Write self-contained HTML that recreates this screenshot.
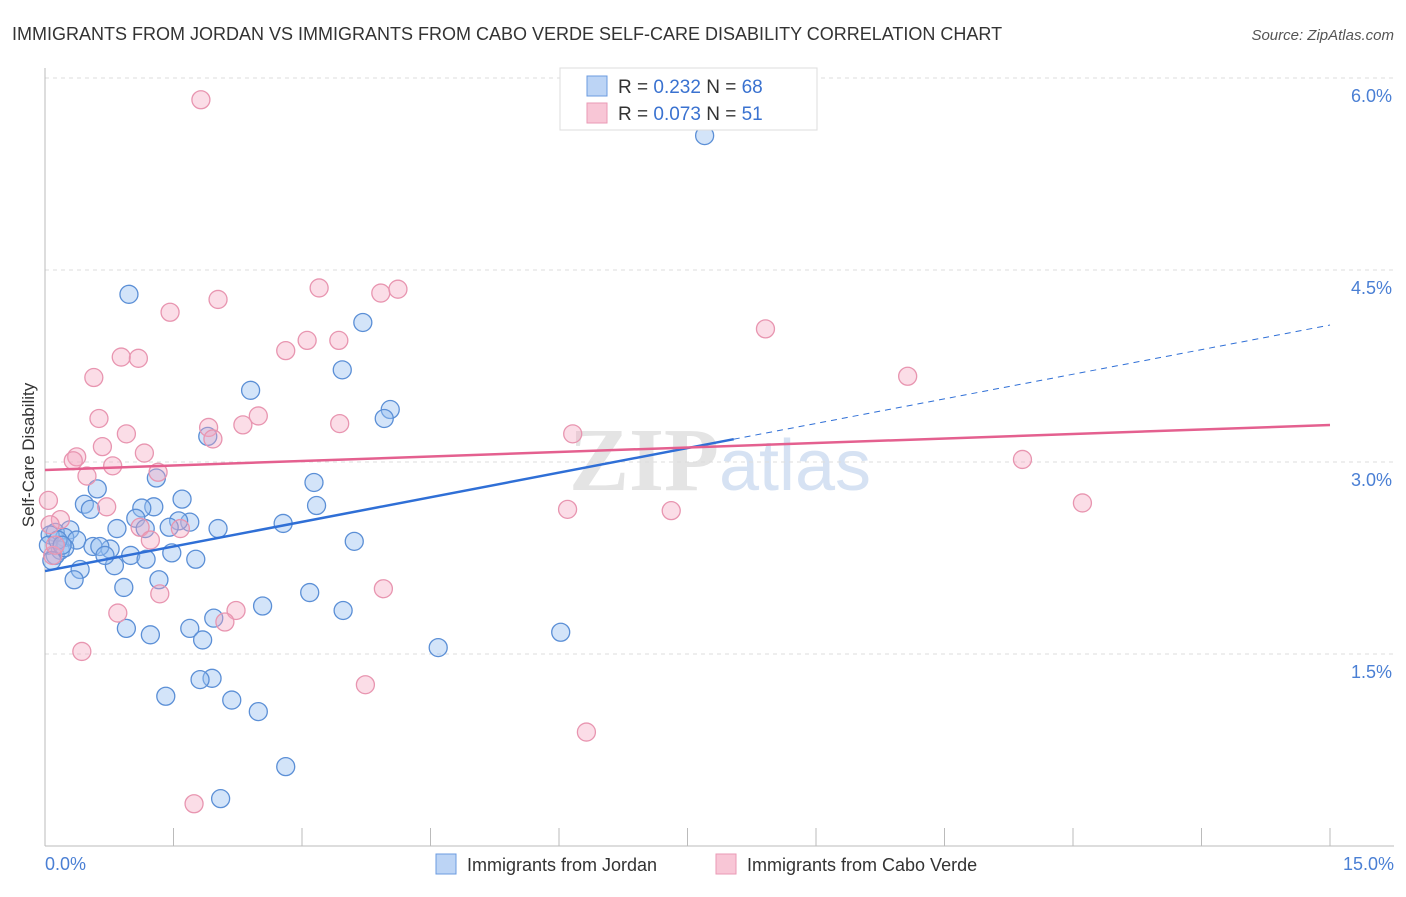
<!DOCTYPE html>
<html><head><meta charset="utf-8"><style>
body{margin:0;background:#fff;font-family:"Liberation Sans",sans-serif}
</style></head><body>
<svg width="1406" height="892" xmlns="http://www.w3.org/2000/svg" font-family="Liberation Sans, sans-serif">
<text x="12" y="40" font-size="18" fill="#333">IMMIGRANTS FROM JORDAN VS IMMIGRANTS FROM CABO VERDE SELF-CARE DISABILITY CORRELATION CHART</text>
<text x="1394" y="40" font-size="15" fill="#555" font-style="italic" text-anchor="end">Source: ZipAtlas.com</text>
<text x="720" y="490" font-size="90" fill="#e4e4e4" text-anchor="middle" font-family="Liberation Serif, serif" font-weight="bold">ZIP<tspan fill="#d6e2f3" font-family="Liberation Sans, sans-serif" font-weight="normal" font-size="72">atlas</tspan></text>
<g id="grid"></g>
<g id="axes"></g>
<g id="marks"></g>
<g id="lines"></g>
<text transform="translate(34,455) rotate(-90)" font-size="17" fill="#333" text-anchor="middle">Self-Care Disability</text>
<text x="45" y="870" font-size="18" fill="#4a7fd4">0.0%</text>
<text x="1394" y="870" font-size="18" fill="#4a7fd4" text-anchor="end">15.0%</text>
<g>
<rect x="560" y="68" width="257" height="62" fill="#fff" stroke="#ddd"/>
<rect x="587" y="76" width="20" height="20" fill="#bcd4f5" stroke="#6b9be0"/>
<rect x="587" y="103" width="20" height="20" fill="#f8c6d6" stroke="#ea9ab5"/>
<text x="618" y="93" font-size="19" fill="#333">R = <tspan fill="#3a72d0">0.232</tspan>   N = <tspan fill="#3a72d0">68</tspan></text>
<text x="618" y="120" font-size="19" fill="#333">R = <tspan fill="#3a72d0">0.073</tspan>   N = <tspan fill="#3a72d0"> 51</tspan></text>
</g>
<g>
<rect x="436" y="854" width="20" height="20" fill="#bcd4f5" stroke="#6b9be0"/>
<text x="467" y="871" font-size="18" fill="#333">Immigrants from Jordan</text>
<rect x="716" y="854" width="20" height="20" fill="#f8c6d6" stroke="#ea9ab5"/>
<text x="747" y="871" font-size="18" fill="#333">Immigrants from Cabo Verde</text>
</g>
</svg>
<script>
const yTicks=[1.5,3.0,4.5,6.0];
const yTickLabels=["1.5%","3.0%","4.5%","6.0%"];
const xTicks=[0,1.5,3,4.5,6,7.5,9,10.5,12,13.5,15];
const jordanX=[7.70,0.98,3.71,3.47,2.40,4.03,3.96,1.90,1.30,3.14,0.61,1.60,0.46,0.53,1.27,1.13,3.17,1.06,1.69,1.56,2.02,0.84,1.17,1.45,2.78,0.29,0.12,0.23,0.37,3.61,0.56,0.76,0.64,1.00,1.48,1.18,1.76,0.81,0.41,0.34,1.33,0.92,2.54,3.09,3.48,1.97,1.69,1.84,0.95,1.23,4.59,6.02,1.95,1.81,1.41,2.18,2.49,2.81,2.05,0.06,0.12,0.18,0.04,0.23,0.15,0.20,0.70,0.08];
const jordanY=[5.55,4.31,4.09,3.72,3.56,3.41,3.34,3.20,2.875,2.84,2.79,2.71,2.67,2.63,2.65,2.64,2.66,2.56,2.53,2.54,2.48,2.48,2.48,2.49,2.52,2.47,2.45,2.41,2.39,2.38,2.34,2.32,2.34,2.27,2.29,2.24,2.24,2.19,2.16,2.08,2.08,2.02,1.875,1.98,1.84,1.78,1.70,1.61,1.70,1.65,1.55,1.67,1.31,1.30,1.17,1.14,1.05,0.62,0.37,2.43,2.27,2.31,2.35,2.33,2.39,2.35,2.27,2.23];
const caboX=[1.82,1.46,2.02,3.20,3.92,4.12,8.41,3.06,3.43,2.81,0.89,1.09,0.57,10.07,0.63,2.49,2.31,3.44,0.95,1.91,1.96,0.67,1.16,6.16,0.37,0.33,0.79,0.49,1.32,11.41,12.11,0.04,0.72,6.10,7.31,0.18,1.11,1.58,1.23,0.09,0.85,1.34,2.23,2.10,3.95,0.43,3.74,6.32,1.74,0.06,0.12];
const caboY=[5.83,4.17,4.27,4.36,4.32,4.35,4.04,3.95,3.95,3.87,3.82,3.81,3.66,3.67,3.34,3.36,3.29,3.30,3.22,3.27,3.18,3.12,3.07,3.22,3.04,3.01,2.97,2.89,2.92,3.02,2.68,2.70,2.65,2.63,2.62,2.55,2.49,2.48,2.39,2.27,1.82,1.97,1.84,1.75,2.01,1.52,1.26,0.89,0.33,2.51,2.35];
const jordanTrend=[2.148,4.07];
const caboTrend=[2.9375,3.289];
const jordanSolidEnd=8.04;
const NS="http://www.w3.org/2000/svg";
const sx=v=>45+v/15*1285;
const sy=v=>846-v/1.5*192;
function mk(tag,attrs,parent){const e=document.createElementNS(NS,tag);for(const k in attrs)e.setAttribute(k,attrs[k]);parent.appendChild(e);return e;}
const grid=document.getElementById('grid'),axes=document.getElementById('axes'),marks=document.getElementById('marks'),lines=document.getElementById('lines');
yTicks.forEach((t,i)=>{
 const l=mk('line',{x1:45,x2:1394,y1:sy(t),y2:sy(t),stroke:'#ddd','stroke-dasharray':'4,4'},grid);
 
 
 const tx=mk('text',{x:1392,y:sy(t)+24,'font-size':18,fill:'#4a7fd4','text-anchor':'end'},axes);
 tx.textContent=yTickLabels[i];
 
 
});
const al=mk('line',{x1:45,x2:45,y1:68,y2:846,stroke:'#bbb'},axes);


const bl=mk('line',{x1:45,x2:1394,y1:846,y2:846,stroke:'#bbb'},axes);


xTicks.forEach(t=>{
 const l=mk('line',{x1:sx(t),x2:sx(t),y1:828,y2:846,stroke:'#bbb'},axes);
 
 
});
function dots(xs,ys,fill,stroke,name){
 xs.forEach((x,i)=>{
  const c=mk('circle',{cx:sx(x),cy:sy(ys[i]),r:9,fill:fill,stroke:stroke,'stroke-width':1.3},marks);
  
  
 });
}
dots(jordanX,jordanY,'rgba(150,190,240,0.42)','#5b8fd6','jordan-point');
dots(caboX,caboY,'rgba(245,165,192,0.38)','#e895b0','cabo-verde-point');
const yAt=(tr,x)=>tr[0]+(tr[1]-tr[0])*x/15;
const j1=mk('line',{x1:sx(0),y1:sy(jordanTrend[0]),x2:sx(jordanSolidEnd),y2:sy(yAt(jordanTrend,jordanSolidEnd)),stroke:'#2f6fd6','stroke-width':2.5},lines);


const j2=mk('line',{x1:sx(jordanSolidEnd),y1:sy(yAt(jordanTrend,jordanSolidEnd)),x2:sx(15),y2:sy(jordanTrend[1]),stroke:'#2f6fd6','stroke-width':1,'stroke-dasharray':'6,5'},lines);


const c1=mk('line',{x1:sx(0),y1:sy(caboTrend[0]),x2:sx(15),y2:sy(caboTrend[1]),stroke:'#e4608f','stroke-width':2.5},lines);


</script>
</body></html>
